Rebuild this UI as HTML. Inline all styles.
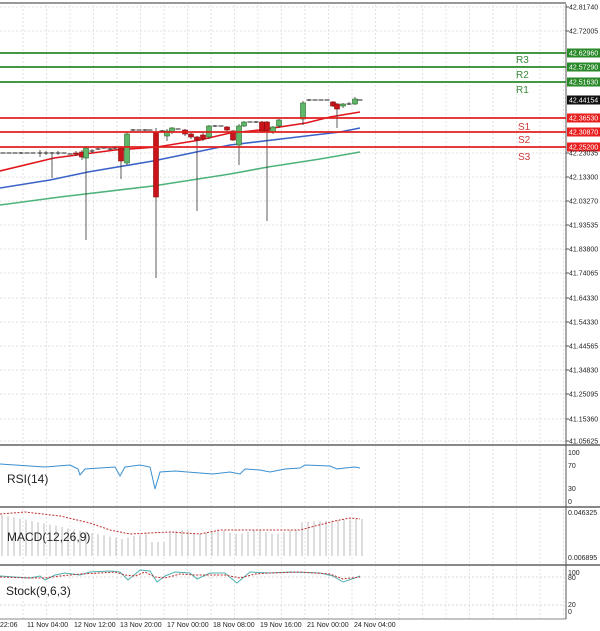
<!DOCTYPE html>
<html><head><meta charset="utf-8"><style>
html,body{margin:0;padding:0;background:#fff;}
svg{display:block;font-family:"Liberation Sans",sans-serif;}
</style></head><body>
<svg id="s" width="600" height="631" viewBox="0 0 600 631" xmlns="http://www.w3.org/2000/svg">
<rect width="600" height="631" fill="#fff"/>
<line x1="0" y1="3" x2="566" y2="3" stroke="#999" stroke-width="2"/>
<g id="grid" stroke="#d8d8d8" stroke-width="0.7" stroke-dasharray="2,2"></g>
<!-- panel separators -->
<line x1="0" y1="445" x2="600" y2="445" stroke="#888" stroke-width="2"/>
<line x1="0" y1="507" x2="600" y2="507" stroke="#888" stroke-width="2"/>
<line x1="0" y1="565" x2="600" y2="565" stroke="#888" stroke-width="2"/>
<line x1="0" y1="619" x2="566" y2="619" stroke="#888" stroke-width="1"/>
<line x1="566" y1="4" x2="566" y2="619" stroke="#555" stroke-width="1"/>
<g id="ma" fill="none" stroke-width="1.6">
<polyline stroke="#4db37a" points="0,205 60,197 153,186 230,174 268,167 320,159 360,152"/>
<polyline stroke="#3a62c8" points="0,188 50,180 88,172 153,161 230,145 306,136 340,132 360,128"/>
<polyline stroke="#e0141a" points="0,171 54,158 115,150 157,147 200,140 230,133 260,130 306,123 330,117 360,112"/>
</g>
<g id="candles"></g>
<g id="levels"></g>
<g id="axis" font-size="7" fill="#222"></g>
<g font-size="10">
<text x="516" y="63" fill="#3a8a3a">R3</text>
<text x="516" y="78" fill="#3a8a3a">R2</text>
<text x="516" y="93" fill="#3a8a3a">R1</text>
<text x="518" y="130" fill="#d23a3a">S1</text>
<text x="518" y="143" fill="#d23a3a">S2</text>
<text x="518" y="160" fill="#d23a3a">S3</text>
</g>
<!-- RSI -->
<polyline fill="none" stroke="#3a8fd0" stroke-width="1" points="0,464 30,466 45,467 70,465 78,469 80,475 85,469 100,468 115,467 120,476 125,467 140,465 150,467 153,480 155,489 160,472 175,471 200,473 213,474 230,472 240,474 245,469 260,470 270,472 285,469 300,468 305,465 330,466 337,469 345,468 355,467 360,468"/>
<text x="7" y="483" font-size="12" fill="#222">RSI(14)</text>
<g font-size="7" fill="#222"><text x="568" y="455">100</text><text x="568" y="468">70</text><text x="568" y="491">30</text><text x="568" y="504">0</text></g>
<g id="macd"></g>
<polyline fill="none" stroke="#c03030" stroke-width="1" stroke-dasharray="2,1.5" points="0,514 25,512 60,516 90,523 110,530 130,534 150,533 170,532 200,534 220,530 260,530 300,530 315,526 335,521 350,518 360,519"/>
<text x="7" y="541" font-size="12" fill="#222">MACD(12,26,9)</text>
<g font-size="7" fill="#222"><text x="568" y="515">0.046325</text><text x="568" y="560">0.006895</text></g>
<!-- Stoch -->
<line x1="0" y1="577" x2="566" y2="577" stroke="#ccc" stroke-dasharray="2,2" stroke-width="0.7"/>
<line x1="0" y1="605" x2="566" y2="605" stroke="#ccc" stroke-dasharray="2,2" stroke-width="0.7"/>
<polyline fill="none" stroke="#50b0b0" stroke-width="1" points="0,576 15,577 30,578 40,576 45,580 55,575 65,573 80,575 90,572 110,571 120,572 128,580 140,570 150,571 157,582 165,576 175,572 190,573 197,579 210,573 225,573 237,583 250,572 270,573 290,572 320,573 333,576 343,582 355,578 360,576"/>
<polyline fill="none" stroke="#c03030" stroke-width="1" stroke-dasharray="2,1.5" points="0,577 30,578 45,578 60,576 80,574 100,573 115,572 125,575 135,576 145,572 155,577 165,578 180,574 195,575 210,575 225,575 240,578 255,574 270,573 300,572 330,574 343,579 360,577"/>
<text x="6" y="595" font-size="12" fill="#222">Stock(9,6,3)</text>
<g font-size="7" fill="#222"><text x="568" y="575">100</text><text x="568" y="580">80</text><text x="568" y="607">20</text><text x="568" y="614">0</text></g>
<g font-size="7" fill="#222">
<text x="0" y="627">22:06</text><text x="27" y="627">11 Nov 04:00</text><text x="74" y="627">12 Nov 12:00</text><text x="120" y="627">13 Nov 20:00</text><text x="167" y="627">17 Nov 00:00</text><text x="213" y="627">18 Nov 08:00</text><text x="260" y="627">19 Nov 16:00</text><text x="307" y="627">21 Nov 00:00</text><text x="354" y="627">24 Nov 04:00</text>
</g>
</svg>
<script>
var NS="http://www.w3.org/2000/svg";
function el(p,t,a,txt){var e=document.createElementNS(NS,t);for(var k in a)e.setAttribute(k,a[k]);if(txt!=null)e.textContent=txt;document.getElementById(p).appendChild(e);return e;}
// grid
for(var x=23;x<566;x+=23.5){el("grid","line",{x1:x,y1:5,x2:x,y2:619});}
var lbl=[["42.81740",7],["42.72005",31],["42.23035",153],["42.13300",177],["42.03270",201],["41.93535",225],["41.83800",249],["41.74065",273],["41.64330",298],["41.54330",322],["41.44565",346],["41.34830",370],["41.25095",394],["41.15360",419],["41.05625",441]];
lbl.forEach(function(l){el("grid","line",{x1:0,y1:l[1],x2:566,y2:l[1]});el("axis","line",{x1:566,y1:l[1],x2:569,y2:l[1],stroke:"#555"});el("axis","text",{x:569,y:l[1]+2.5},l[0]);});
// candles
var C=[[3,153,153,153,153],[9,153,153,153,153],[15,153,153,153,153],[21,153,153,152,154],[27,153,153,153,153],[33,153,153,153,153],[40,153,153,150,157],[46,153,153,151,155],[52,153,153,152,178],[58,153,153,151,155],[64,153,153,153,153],[70,154,154,154,154],[76,153,154,151,156],[82,152,157,150,160],[86,158,148,147,240],[92,151,151,149,153],[98,149,149,148,150],[104,148,148,148,148],[110,149,149,148,150],[115,148,148,146,150],[121,148,161,146,179],[127,163,134,132,165],[133,130,130,129,131],[139,130,130,130,130],[145,130,130,129,131],[150,130,130,130,130],[156,132,197,128,278],[162,131,131,130,132],[167,136,131,129,141],[172,132,128,127,134],[178,129,129,129,129],[185,130,134,129,136],[191,134,137,133,139],[197,137,140,136,211],[203,135,139,133,141],[209,137,126,125,139],[215,126,126,125,127],[221,126,126,126,126],[227,127,130,126,131],[233,131,140,130,141],[239,145,126,124,165],[244,126,122,121,127],[250,122,122,122,122],[256,122,122,121,123],[262,122,131,121,133],[267,122,131,121,221],[273,132,127,126,134],[279,126,120,119,128],[285,118,118,118,118],[291,118,118,118,118],[297,118,118,118,118],[303,119,103,101,125],[309,100,100,99,101],[315,100,100,100,100],[321,100,100,100,100],[327,100,100,100,100],[333,102,106,101,107],[337,104,109,103,128],[343,106,104,103,108],[349,104,104,102,105],[355,104,99,97,105],[360,100,100,100,100]];
C.forEach(function(c){var x=c[0],o=c[1],cl=c[2],h=c[3],l=c[4];var up=cl<o;
el("candles","line",{x1:x,y1:h,x2:x,y2:l,stroke:"#333","stroke-width":0.8});
var t=Math.min(o,cl),b=Math.max(o,cl);
if(b-t<1){el("candles","line",{x1:x-2.5,y1:t,x2:x+2.5,y2:t,stroke:"#222","stroke-width":1});}
else el("candles","rect",{x:x-2.5,y:t,width:5,height:b-t,fill:up?"#5fb86a":"#c8141a",stroke:up?"#2a6a2a":"#8a0a0a","stroke-width":0.6});});
// levels
[[53,"#2a8a2a","42.62960","#2a8a2a"],[67,"#2a8a2a","42.57290","#2a8a2a"],[82,"#2a8a2a","42.51630","#2a8a2a"],[118,"#e02020","42.36530","#e82020"],[132,"#e02020","42.30870","#e82020"],[147,"#e02020","42.25200","#e82020"],[100,null,"42.44154","#111"]].forEach(function(v){
if(v[1])el("levels","line",{x1:0,y1:v[0],x2:566,y2:v[0],stroke:v[1],"stroke-width":1.8});
el("levels","rect",{x:567,y:v[0]-4.5,width:33,height:9,fill:v[3]});
el("levels","text",{x:569,y:v[0]+2.5,"font-size":7,fill:"#fff"},v[2]);});
// macd hist
for(var i=0;i<61;i++){var x=2+i*6;var top=520+Math.abs(Math.sin(i/9))*0;var tp;
if(i<20)tp=515+i*1.2;else if(i<25)tp=539-(i-20)*1.5;else if(i<28)tp=542;else if(i<50)tp=532+Math.sin(i)*2;else tp=522-(i-50)*0.3;
el("macd","line",{x1:x,y1:tp,x2:x,y2:556,stroke:"#bbb","stroke-width":1});}
</script>
</body></html>
